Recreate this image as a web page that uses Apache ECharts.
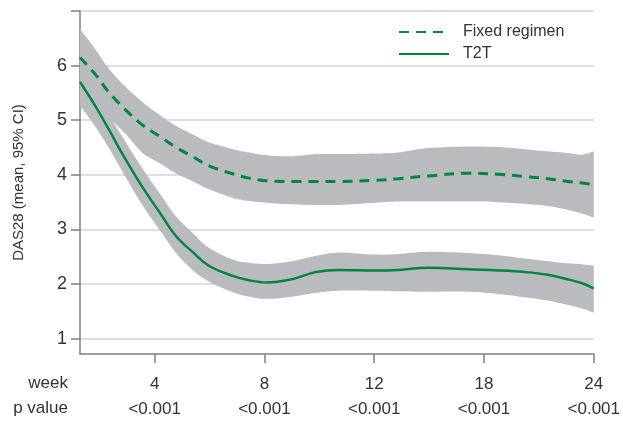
<!DOCTYPE html>
<html>
<head>
<meta charset="utf-8">
<script src="https://cdn.jsdelivr.net/npm/echarts@6/dist/echarts.min.js"></script>
<style>
  html, body { margin: 0; padding: 0; background: #fff; }
  #main { width: 623px; height: 441px; }
</style>
</head>
<body>
<div id="main"></div>
<script>
// x = visit position on the axis (1 = week 4, 2 = week 8, 3 = week 12, 4 = week 18, 5 = week 24)
var xPos = [0.32, 0.46, 0.58, 0.73, 0.89, 1.05, 1.19, 1.35, 1.49, 1.71, 1.86, 2.02, 2.25, 2.47,
            2.68, 3.01, 3.22, 3.49, 3.86, 4.13, 4.37, 4.58, 4.76, 4.90, 5.00];

// Fixed regimen: mean and 95% CI
var fixedMean  = [6.15, 5.84, 5.52, 5.20, 4.91, 4.70, 4.51, 4.33, 4.17, 4.02, 3.94, 3.89, 3.88, 3.88,
                  3.88, 3.90, 3.93, 3.98, 4.03, 4.01, 3.97, 3.93, 3.88, 3.85, 3.82];
var fixedUpper = [6.67, 6.30, 5.95, 5.62, 5.33, 5.09, 4.90, 4.74, 4.60, 4.47, 4.41, 4.36, 4.34, 4.38,
                  4.38, 4.39, 4.41, 4.49, 4.52, 4.51, 4.47, 4.43, 4.40, 4.37, 4.43];
var fixedLower = [5.63, 5.35, 5.06, 4.76, 4.40, 4.21, 4.03, 3.88, 3.74, 3.58, 3.52, 3.49, 3.46, 3.45,
                  3.45, 3.49, 3.51, 3.51, 3.51, 3.50, 3.47, 3.43, 3.36, 3.29, 3.22];

// T2T: mean and 95% CI
var t2tMean  = [5.70, 5.26, 4.84, 4.30, 3.77, 3.30, 2.89, 2.58, 2.34, 2.15, 2.07, 2.03, 2.09, 2.22,
                2.26, 2.25, 2.26, 2.30, 2.27, 2.25, 2.22, 2.17, 2.09, 2.01, 1.92];
var t2tUpper = [6.10, 5.62, 5.12, 4.62, 4.11, 3.65, 3.25, 2.93, 2.67, 2.45, 2.39, 2.37, 2.42, 2.52,
                2.58, 2.54, 2.55, 2.59, 2.57, 2.53, 2.47, 2.42, 2.38, 2.36, 2.34];
var t2tLower = [5.27, 4.88, 4.50, 3.98, 3.44, 2.98, 2.58, 2.25, 2.05, 1.85, 1.77, 1.73, 1.77, 1.84,
                1.88, 1.88, 1.87, 1.86, 1.86, 1.82, 1.76, 1.70, 1.62, 1.55, 1.48];

// tick labels
var weekTicks = ['4', '8', '12', '18', '24'];
var pValues   = ['<0.001', '<0.001', '<0.001', '<0.001', '<0.001'];
var yTicks    = [1, 2, 3, 4, 5, 6, 7];

var FONT = "'Liberation Sans', Arial, sans-serif";
var GREEN = '#00853f';
var BAND = '#babbbf';

function pairs(ys) {
	return xPos.map(function (x, i) { return [x, ys[i]]; });
}

// smooth open curve through pixel points (catmull-rom -> cubic bezier), as svg path commands
function curvePath(p, first) {
	var d = first ? 'M' + p[0][0] + ',' + p[0][1] : 'L' + p[0][0] + ',' + p[0][1];
	var n = p.length;
	for (var i = 0; i < n - 1; i++) {
		var p0 = p[i > 0 ? i - 1 : i], p1 = p[i], p2 = p[i + 1], p3 = p[i + 2 < n ? i + 2 : i + 1];
		var c1x = p1[0] + (p2[0] - p0[0]) / 6, c1y = p1[1] + (p2[1] - p0[1]) / 6;
		var c2x = p2[0] - (p3[0] - p1[0]) / 6, c2y = p2[1] - (p3[1] - p1[1]) / 6;
		d += 'C' + c1x + ',' + c1y + ',' + c2x + ',' + c2y + ',' + p2[0] + ',' + p2[1];
	}
	return d;
}

// band = one custom path: upper edge left->right, lower edge right->left
function bandSeries(name, upper, lower) {
	var rows = xPos.map(function (x, i) { return [x, upper[i], lower[i]]; });
	return {
		name: name,
		type: 'custom',
		silent: true,
		z: 1,
		data: rows,
		encode: { x: 0, y: [1, 2] },
		renderItem: function (params, api) {
			if (params.dataIndex !== 0) return null;
			var up = [], lo = [];
			for (var i = 0; i < rows.length; i++) {
				up.push(api.coord([rows[i][0], rows[i][1]]));
				lo.push(api.coord([rows[i][0], rows[i][2]]));
			}
			lo.reverse();
			return {
				type: 'path',
				shape: { pathData: curvePath(up, true) + curvePath(lo, false) + 'Z' },
				style: { fill: BAND }
			};
		}
	};
}

var chart = echarts.init(document.getElementById('main'), null, { renderer: 'canvas' });

var option = {
	animation: false,
	textStyle: { fontFamily: FONT },
	grid: { left: 80, right: 27, top: 11, bottom: 87, containLabel: false },
	legend: {
		data: ['Fixed regimen', 'T2T'],
		orient: 'vertical',
		left: 393,
		top: 19,
		itemWidth: 50,
		itemHeight: 12,
		itemGap: 6,
		itemStyle: { opacity: 0 },
		textStyle: { fontFamily: FONT, fontSize: 16, color: '#333', padding: [0, 0, 0, 9] }
	},
	xAxis: {
		type: 'value',
		min: 0.32,
		max: 5,
		axisLine: { show: true, lineStyle: { color: '#808080', width: 1.5 } },
		axisTick: {
			show: true, inside: false, length: 9,
			customValues: [1, 2, 3, 4, 5],
			lineStyle: { color: '#808080', width: 1.5 }
		},
		axisLabel: {
			customValues: [1, 2, 3, 4, 5],
			margin: 18,
			fontFamily: FONT,
			fontSize: 17,
			lineHeight: 25,
			color: '#333',
			formatter: function (v) {
				var i = Math.round(v) - 1;
				return weekTicks[i] + '\n' + pValues[i];
			}
		},
		splitLine: { show: false }
	},
	yAxis: {
		type: 'value',
		min: 0.72,
		max: 7,
		name: 'DAS28 (mean, 95% CI)',
		nameLocation: 'middle',
		nameGap: 54,
		nameTextStyle: { fontFamily: FONT, fontSize: 15, color: '#333' },
		axisLine: { show: true, lineStyle: { color: '#808080', width: 1.5 } },
		axisTick: {
			show: true, inside: false, length: 9,
			customValues: yTicks,
			lineStyle: { color: '#808080', width: 1.5 }
		},
		axisLabel: {
			customValues: [1, 2, 3, 4, 5, 6],
			margin: 13,
			fontFamily: FONT,
			fontSize: 18,
			color: '#333'
		},
		splitLine: { show: true, lineStyle: { color: '#d4d4d4', width: 1.5 } }
	},
	graphic: [
		{ type: 'text', right: 555, top: 375, style: { text: 'week', font: '17px ' + FONT, fill: '#333', textAlign: 'right' } },
		{ type: 'text', right: 555, top: 400, style: { text: 'p value', font: '17px ' + FONT, fill: '#333', textAlign: 'right' } }
	],
	series: [
		bandSeries('fixedCI', fixedUpper, fixedLower),
		bandSeries('t2tCI', t2tUpper, t2tLower),
		{
			name: 'Fixed regimen', type: 'line', data: pairs(fixedMean),
			smooth: 0.4, symbol: 'none', z: 3,
			itemStyle: { color: GREEN },
			lineStyle: { color: GREEN, width: 3, type: [10, 7] }
		},
		{
			name: 'T2T', type: 'line', data: pairs(t2tMean),
			smooth: 0.4, symbol: 'none', z: 3,
			itemStyle: { color: GREEN },
			lineStyle: { color: GREEN, width: 2.5 }
		}
	]
};
chart.setOption(option);
</script>
</body>
</html>
